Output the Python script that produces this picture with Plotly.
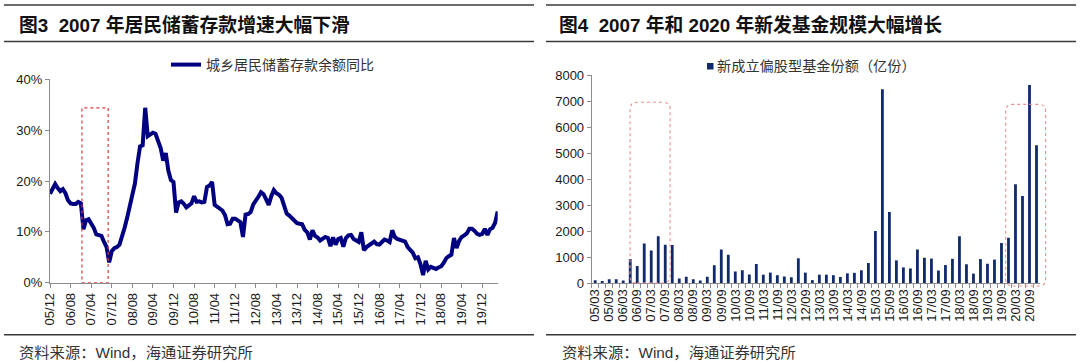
import plotly.graph_objects as go
import pandas as pd

W, H = 1080, 361

# ---------------- data ----------------
# Fig.3: urban & rural household savings deposits, YoY (%), monthly from 2005/12
deposit_start = "2005-12"
deposit_yoy = [
    17.5, 18.5, 19.4, 18.6, 18.0, 18.4, 17.6, 16.2,
    15.6, 15.5, 15.5, 15.9, 15.6, 10.5, 12.3, 12.5,
    11.8, 10.8, 9.5, 9.3, 9.2, 8.0, 7.0, 4.0,
    6.2, 6.8, 7.0, 7.5, 9.0, 10.8, 12.8, 15.0,
    17.0, 19.5, 23.5, 26.8, 27.0, 34.4, 28.8, 29.2,
    29.5, 29.3, 28.0, 26.5, 24.0, 25.5, 22.0, 20.2,
    19.8, 13.8, 15.8, 16.0, 15.5, 14.8, 15.2, 15.6,
    17.0, 15.9, 16.0, 15.8, 15.9, 18.8, 19.1, 19.8,
    15.3, 15.0, 14.6, 14.2, 13.3, 11.5, 11.6, 12.6,
    12.6, 12.2, 11.9, 9.0, 13.4, 13.5, 13.9, 15.4,
    16.0, 16.9, 17.8, 17.4, 16.4, 15.3, 17.0, 18.2,
    17.6, 17.3, 16.7, 15.0, 13.6, 13.2, 12.6, 12.0,
    11.7, 11.6, 11.5, 10.4, 9.9, 8.5, 10.3, 9.2,
    8.9, 8.3, 8.7, 9.0, 8.8, 7.2, 8.9, 7.5,
    8.6, 8.8, 7.1, 8.8, 9.3, 9.4, 8.6, 8.3,
    8.0, 9.9, 6.4, 7.0, 7.3, 7.8, 8.1, 7.6,
    7.5, 8.0, 8.5, 8.3, 8.0, 10.3, 9.0, 8.6,
    8.5, 8.3, 8.1, 7.0, 6.3, 5.9, 4.8, 5.0,
    3.6, 1.5, 4.3, 2.6, 3.1, 3.0, 2.7, 3.0,
    3.2, 3.9, 4.8, 5.2, 5.5, 8.8, 6.8, 8.2,
    9.0, 9.3, 9.7, 10.6, 10.6, 10.2, 9.6, 9.4,
    9.6, 10.6, 9.4, 10.5, 10.8, 11.8, 14.0,
]
deposit_months = list(pd.date_range(deposit_start, periods=len(deposit_yoy), freq="MS").strftime("%y/%m"))
deposit_ticks = deposit_months[::8]
deposit_yticks = [0, 10, 20, 30, 40]
deposit_name = "城乡居民储蓄存款余额同比"

# Fig.4: newly issued equity-oriented fund shares (100 million units), quarterly 2005Q1-2020Q4
fund_quarters = [f"{y % 100:02d}/{m:02d}" for y in range(2005, 2021) for m in (3, 6, 9, 12)]
fund_shares = [
    110, 60, 140, 140, 100, 920, 650, 1520,
    1250, 1800, 1470, 1460, 170, 240, 140, 100,
    240, 680, 1290, 1090, 440, 490, 330, 730,
    320, 400, 300, 250, 220, 950, 400, 110,
    320, 320, 300, 230, 370, 390, 490, 770,
    2000, 7450, 2730, 870, 600, 560, 1290, 970,
    940, 480, 690, 930, 1800, 720, 360, 920,
    740, 900, 1540, 1740, 3800, 3350, 7620, 5300,
]
fund_ticks = fund_quarters[::2]
fund_yticks = [0, 1000, 2000, 3000, 4000, 5000, 6000, 7000, 8000]
fund_name = "新成立偏股型基金份额（亿份）"

# highlight ranges
deposit_box = dict(x0=12.4, x1=22.6, y0=0, y1=34.4)
fund_boxes = [dict(c0=4.97, c1=10.69, v0=0, v1=6950), dict(c0=58.6, c1=64.3, v0=-115, v1=6870)]

# ---------------- style ----------------
LINE_COLOR = "#000080"
BAR_COLOR = "#102a6c"
AXIS_COLOR = "#8c8c8c"
TICK_FONT = dict(family="Liberation Sans, Arial, sans-serif", size=13, color="#1a1a1a")
CJK = "Liberation Sans, Noto Sans CJK SC, sans-serif"

LX = [50 / W, 497.7 / W]
LY = [(H - 282.7) / H, (H - 79.3) / H]
RX = [591.7 / W, 1040 / W]
RY = [(H - 283) / H, (H - 75) / H]

fig = go.Figure()

fig.add_trace(go.Scatter(
    x=deposit_months, y=deposit_yoy, mode="lines",
    line=dict(color=LINE_COLOR, width=4),
    name=deposit_name, xaxis="x", yaxis="y", legend="legend",
))

fig.add_trace(go.Bar(
    x=fund_quarters, y=fund_shares, width=0.4,
    marker=dict(color=BAR_COLOR, line=dict(width=0)),
    name=fund_name, xaxis="x2", yaxis="y2", showlegend=False,
))

axis_common = dict(showline=True, linecolor=AXIS_COLOR, linewidth=1, ticks="outside",
                   tickcolor=AXIS_COLOR, ticklen=4, tickfont=TICK_FONT, showgrid=False,
                   zeroline=False, automargin=False)

fig.update_layout(
    width=W, height=H, margin=dict(l=0, r=0, t=0, b=0, pad=0, autoexpand=False),
    paper_bgcolor="white", plot_bgcolor="white",
    xaxis=dict(domain=LX, type="category", range=[0, len(deposit_yoy) - 1],
               tickmode="array", tickvals=deposit_ticks, ticktext=deposit_ticks,
               tickangle=-90, anchor="y", **axis_common),
    yaxis=dict(domain=LY, range=[0, 40], tickmode="array", tickvals=deposit_yticks,
               ticktext=[f"{v}%" for v in deposit_yticks], anchor="x", **axis_common),
    xaxis2=dict(domain=RX, type="category", range=[-0.5, len(fund_shares) - 0.5],
                tickmode="array", tickvals=fund_quarters,
                ticktext=[q if q in fund_ticks else "" for q in fund_quarters],
                tickson="boundaries", tickangle=-90, anchor="y2", **axis_common),
    yaxis2=dict(domain=RY, range=[0, 8000], tickmode="array", tickvals=fund_yticks,
                ticktext=[str(v) for v in fund_yticks], anchor="x2", **axis_common),
    legend=dict(x=166 / W, y=1 - 65 / H, xanchor="left", yanchor="middle",
                font=dict(family=CJK, size=14, color="#333"), bgcolor="rgba(0,0,0,0)"),
    showlegend=True,
)

shapes = []
# header / footer rules
for (x0, x1) in [(4, 534), (546, 1076)]:
    for yy, wdt in [(5, 1.6), (41.5, 1.6), (334.7, 1.4)]:
        shapes.append(dict(type="line", xref="paper", yref="paper",
                           x0=x0 / W, x1=x1 / W, y0=1 - yy / H, y1=1 - yy / H,
                           line=dict(color="#3a3a3a", width=wdt)))
# left red dashed box
shapes.append(dict(type="rect", xref="x", yref="y", layer="above",
                   x0=deposit_box["x0"], x1=deposit_box["x1"],
                   y0=deposit_box["y0"], y1=deposit_box["y1"],
                   line=dict(color="#e03838", width=1.2, dash="dot")))


def bx(c):
    return RX[0] + (c + 0.5) / len(fund_shares) * (RX[1] - RX[0])


def by(v):
    return RY[0] + v / 8000 * (RY[1] - RY[0])


rx, ry = 7 / W, 7 / H
for b in fund_boxes:
    x0, x1, y0, y1 = bx(b["c0"]), bx(b["c1"]), by(b["v0"]), by(b["v1"])
    path = (f"M{x0 + rx},{y0} L{x1 - rx},{y0} Q{x1},{y0} {x1},{y0 + ry} "
            f"L{x1},{y1 - ry} Q{x1},{y1} {x1 - rx},{y1} L{x0 + rx},{y1} "
            f"Q{x0},{y1} {x0},{y1 - ry} L{x0},{y0 + ry} Q{x0},{y0} {x0 + rx},{y0} Z")
    shapes.append(dict(type="path", xref="paper", yref="paper", path=path, layer="above",
                       line=dict(color="#ec8f8f", width=1.1, dash="dot")))

# bar-series legend key (small square, as in the original)
shapes.append(dict(type="rect", xref="paper", yref="paper",
                   x0=707 / W, x1=713.5 / W, y0=1 - 69.5 / H, y1=1 - 63 / H,
                   fillcolor=BAR_COLOR, line=dict(width=0)))
fig.update_layout(shapes=shapes)

annotations = [
    dict(text="<b>图3  2007 年居民储蓄存款增速大幅下滑</b>", x=17 / W, y=1 - 25 / H),
    dict(text="<b>图4  2007 年和 2020 年新发基金规模大幅增长</b>", x=557 / W, y=1 - 25 / H),
]
for a in annotations:
    a.update(xref="paper", yref="paper", xanchor="left", yanchor="middle", showarrow=False,
             font=dict(family=CJK, size=18.8, color="#111"))
for xx in (17, 560):
    annotations.append(dict(text="资料来源：Wind，海通证券研究所", x=xx / W, y=1 - 352 / H,
                            xref="paper", yref="paper", xanchor="left", yanchor="middle",
                            showarrow=False, font=dict(family=CJK, size=15.3, color="#333")))
annotations.append(dict(text=fund_name, x=715 / W, y=1 - 66 / H, xref="paper", yref="paper",
                        xanchor="left", yanchor="middle", showarrow=False,
                        font=dict(family=CJK, size=14.2, color="#333")))
fig.update_layout(annotations=annotations)

fig.write_html(
    "out.html",
    config={"displayModeBar": False},
    post_script="document.body.style.margin='0';document.body.style.overflow='hidden';",
)
